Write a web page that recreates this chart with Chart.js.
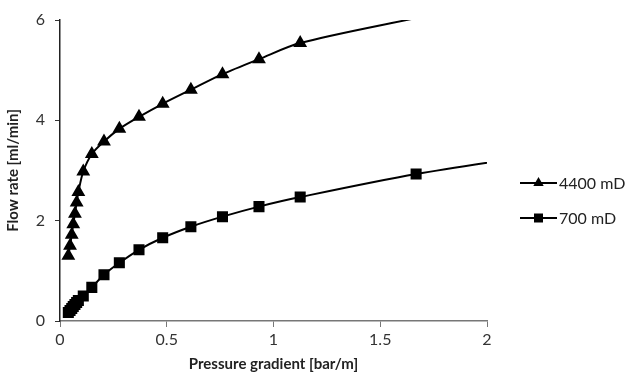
<!DOCTYPE html>
<html>
<head>
<meta charset="utf-8">
<script src="https://cdn.jsdelivr.net/npm/chart.js@4.4.1/dist/chart.umd.min.js"></script>
<style>
  html, body { margin: 0; padding: 0; background: #fff; }
  #wrap { width: 629px; height: 377px; }
</style>
</head>
<body>
<div id="wrap"><canvas id="flowChart" width="629" height="377"></canvas></div>
<script>
// pressure gradient [bar/m] - same x for both series
const gradient = [0.039, 0.047, 0.055, 0.062, 0.070, 0.078, 0.086, 0.109, 0.149, 0.206,
                  0.278, 0.370, 0.481, 0.613, 0.761, 0.932, 1.125, 1.668, 2.3];
// flow rate [ml/min]; last value of each runs past the axis edge (line only)
const flow4400 = [1.30, 1.50, 1.72, 1.93, 2.14, 2.36, 2.57, 2.98, 3.33, 3.58,
                  3.83, 4.07, 4.33, 4.61, 4.92, 5.22, 5.54, 6.04, null];
const flow700  = [0.17, 0.21, 0.25, 0.29, 0.33, 0.37, 0.41, 0.50, 0.67, 0.92,
                  1.16, 1.42, 1.66, 1.88, 2.08, 2.28, 2.47, 2.93, 3.35];
const seriesNames = ["4400 mD", "700 mD"];
const xTicks = [0, 0.5, 1, 1.5, 2];
const xTickLabels = ["0", "0.5", "1", "1.5", "2"];
const yTicks = [0, 2, 4, 6];

const FONT = "Lato, 'Open Sans', sans-serif";

function toPoints(ys){
  let pts = [];
  ys.forEach((y, i) => { if(y !== null) pts.push({x: gradient[i], y: y}); });
  return pts;
}

// hide markers that sit outside the plotted range
function markerSize(r){
  return ctx => {
    const p = ctx.raw;
    if(!p) return r;
    return (p.x > 2 || p.y > 6) ? 0 : r;
  };
}

// legend drawn on the right: line with marker in the middle
const sideLegend = {
  id: "sideLegend",
  afterDraw(chart){
    const c = chart.ctx;
    const area = chart.chartArea;
    const x0 = area.right + 33, x1 = area.right + 70;
    const rows = [{y: 183, style: "triangle"}, {y: 218, style: "rect"}];
    rows.forEach((row, i) => {
      c.save();
      c.strokeStyle = "#000";
      c.lineWidth = 2;
      c.beginPath();
      c.moveTo(x0, row.y);
      c.lineTo(x1, row.y);
      c.stroke();
      c.fillStyle = "#000";
      const cx = (x0 + x1) / 2;
      c.beginPath();
      if(row.style === "triangle"){
        c.moveTo(cx, row.y - 6);
        c.lineTo(cx + 5.2, row.y + 3);
        c.lineTo(cx - 5.2, row.y + 3);
        c.closePath();
      } else {
        c.rect(cx - 4.5, row.y - 4.5, 9, 9);
      }
      c.fill();
      c.font = "16px " + FONT;
      c.fillStyle = "#222";
      c.textBaseline = "middle";
      c.textAlign = "left";
      c.fillText(seriesNames[i], x1 + 2, row.y + 1);
      c.restore();
    });
  }
};

new Chart(document.getElementById("flowChart"), {
  type: "scatter",
  data: {
    datasets: [
      {
        label: seriesNames[0],
        data: toPoints(flow4400),
        showLine: true,
        borderColor: "#000",
        backgroundColor: "#000",
        borderWidth: 2,
        tension: 0.3,
        pointStyle: "triangle",
        pointRadius: markerSize(6),
        pointHoverRadius: markerSize(6)
      },
      {
        label: seriesNames[1],
        data: toPoints(flow700),
        showLine: true,
        borderColor: "#000",
        backgroundColor: "#000",
        borderWidth: 2,
        tension: 0.3,
        pointStyle: "rect",
        pointRadius: markerSize(6.4),
        pointHoverRadius: markerSize(6.4)
      }
    ]
  },
  options: {
    responsive: false,
    animation: false,
    layout: { padding: { top: 20, right: 142, left: 0, bottom: 0 } },
    plugins: {
      legend: { display: false },
      tooltip: { enabled: false }
    },
    scales: {
      x: {
        type: "linear",
        min: 0, max: 2,
        afterBuildTicks: axis => { axis.ticks = xTicks.map(v => ({value: v})); },
        afterFit: axis => { axis.height = 56; },
        grid: { display: true, drawOnChartArea: false, drawTicks: true, tickLength: 6, color: "#777" },
        border: { color: "#777", width: 1.5 },
        ticks: {
          color: "#333", font: { family: FONT, size: 16 }, padding: 3, maxRotation: 0,
          callback: (v, i) => xTickLabels[i]
        },
        title: { display: true, text: "Pressure gradient [bar/m]", color: "#222",
                 font: { family: FONT, size: 15, weight: "bold" }, padding: { top: 1 } }
      },
      y: {
        type: "linear",
        min: 0, max: 6,
        afterBuildTicks: axis => { axis.ticks = yTicks.map(v => ({value: v})); },
        afterFit: axis => { axis.width = 60; },
        grid: { display: true, drawOnChartArea: false, drawTicks: true, tickLength: 5, color: "#333" },
        border: { color: "#222", width: 1.5 },
        ticks: { color: "#333", font: { family: FONT, size: 16 }, padding: 10 },
        title: { display: true, text: "Flow rate [ml/min]", color: "#222",
                 font: { family: FONT, size: 15, weight: "bold" }, padding: { bottom: 2 } }
      }
    }
  },
  plugins: [sideLegend]
});
</script>
</body>
</html>
